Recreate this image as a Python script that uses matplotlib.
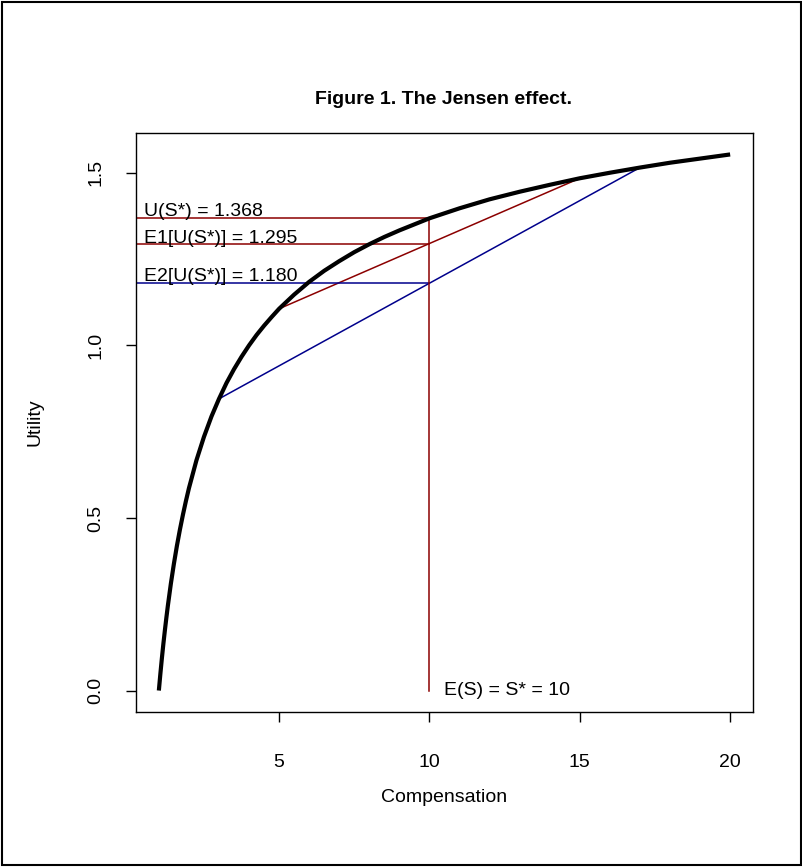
import numpy as np
import matplotlib.pyplot as plt
from matplotlib.patches import Rectangle

plt.rcParams['font.family'] = ['Liberation Sans', 'DejaVu Sans']

# utility curve
comp = [1, 1.05, 1.1, 1.15, 1.2, 1.25, 1.3, 1.4, 1.5, 1.6, 1.7, 1.8, 1.9, 2, 2.25,
        2.5, 2.75, 3, 3.25, 3.5, 3.75, 4, 4.25, 4.5, 4.75, 5, 5.5, 6, 6.5, 7, 7.5,
        8, 8.5, 9, 10, 11, 12, 13, 14, 15, 16, 17, 18, 19, 20]
util = [0.0, 0.048, 0.093, 0.135, 0.174, 0.211, 0.246, 0.310, 0.367, 0.419, 0.466,
        0.509, 0.549, 0.586, 0.667, 0.735, 0.794, 0.845, 0.891, 0.931, 0.967, 1.000,
        1.030, 1.057, 1.082, 1.106, 1.147, 1.184, 1.216, 1.244, 1.270, 1.293, 1.314,
        1.333, 1.368, 1.397, 1.423, 1.445, 1.465, 1.484, 1.500, 1.515, 1.529, 1.541,
        1.553]

s_star = 10
u_star = 1.368
chord1 = (5, 15)      # narrow spread
chord2 = (3, 17)      # wide spread
e1 = 1.295
e2 = 1.180

red = '#8B0000'
blue = '#00008B'

fig = plt.figure(figsize=(8.03, 8.67), dpi=100)
W, H = 803, 867
ax = fig.add_axes([136 / W, 1 - 712 / H, (753 - 136) / W, (712 - 133) / H])

def u_at(s):
    return util[comp.index(s)]

xmin = min(comp) - 0.04 * (max(comp) - min(comp))
xmax = max(comp) + 0.04 * (max(comp) - min(comp))
ymin = min(util) - 0.04 * (max(util) - min(util))
ymax = max(util) + 0.04 * (max(util) - min(util))

ax.plot(comp, util, color='black', lw=3, solid_capstyle='butt',
        solid_joinstyle='round', zorder=3)

# chords
ax.plot(chord1, [u_at(chord1[0]), u_at(chord1[1])], color=red, lw=1.1)
ax.plot(chord2, [u_at(chord2[0]), u_at(chord2[1])], color=blue, lw=1.1)

# reference lines
ax.plot([xmin, s_star], [u_star, u_star], color=red, lw=1.1)
ax.plot([xmin, s_star], [e1, e1], color=red, lw=1.1)
ax.plot([xmin, s_star], [e2, e2], color=blue, lw=1.1)
ax.plot([s_star, s_star], [0, u_star], color=red, lw=1.1)

ax.text(0.5, u_star + 0.008, 'U(S*) = %.3f' % u_star, fontsize=14, va='baseline', ha='left')
ax.text(0.5, e1 + 0.002, 'E1[U(S*)] = %.3f' % e1, fontsize=14, va='baseline', ha='left')
ax.text(0.5, e2 + 0.005, 'E2[U(S*)] = %.3f' % e2, fontsize=14, va='baseline', ha='left')
ax.text(s_star + 0.5, 0, 'E(S) = S* = %d' % s_star, fontsize=14, va='center', ha='left')

ax.set_xlim(xmin, xmax)
ax.set_ylim(ymin, ymax)
ax.set_xticks([5, 10, 15, 20])
ax.set_yticks([0.0, 0.5, 1.0, 1.5])
ax.set_yticklabels(['0.0', '0.5', '1.0', '1.5'])
ax.tick_params(axis='both', direction='out', length=7, width=1, labelsize=14)
ax.tick_params(axis='x', pad=23)
ax.tick_params(axis='y', pad=16, labelrotation=90)
for lab in ax.get_yticklabels():
    lab.set_va('center')
for sp in ax.spines.values():
    sp.set_linewidth(1)

fig.text(444 / W, 1 - 100 / H, 'Figure 1. The Jensen effect.', fontsize=14,
         fontweight='bold', ha='center', va='center')
fig.text(444 / W, 1 - 797 / H, 'Compensation', fontsize=14, ha='center', va='center')
fig.text(35 / W, 1 - 422 / H, 'Utility', fontsize=14, ha='center', va='center', rotation=90)

fig.add_artist(Rectangle((2 / W, 2 / H), 1 - 4 / W, 1 - 4 / H, transform=fig.transFigure,
                         fill=False, edgecolor='black', lw=1.5))

fig.savefig('out.png', dpi=100)
